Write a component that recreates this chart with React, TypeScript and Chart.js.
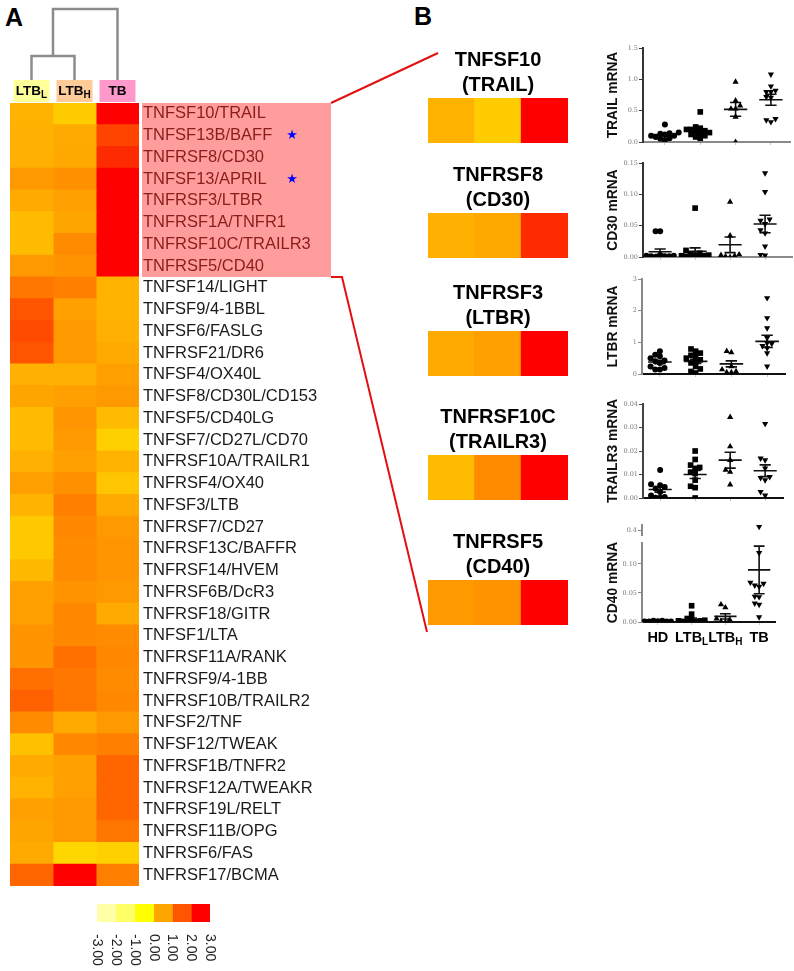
import React, { useEffect, useRef } from "react";
import { Chart, registerables } from "chart.js";

Chart.register(...registerables);

const SANS = "'Liberation Sans', Arial, Helvetica, sans-serif";

// ================= Panel A : heatmap data =================
const genes = [
  "TNFSF10/TRAIL", "TNFSF13B/BAFF", "TNFRSF8/CD30", "TNFSF13/APRIL", "TNFRSF3/LTBR", "TNFRSF1A/TNFR1", "TNFRSF10C/TRAILR3", "TNFRSF5/CD40",
  "TNFSF14/LIGHT", "TNFSF9/4-1BBL", "TNFSF6/FASLG", "TNFRSF21/DR6", "TNFSF4/OX40L", "TNFSF8/CD30L/CD153", "TNFSF5/CD40LG", "TNFSF7/CD27L/CD70",
  "TNFRSF10A/TRAILR1", "TNFRSF4/OX40", "TNFSF3/LTB", "TNFRSF7/CD27", "TNFRSF13C/BAFFR", "TNFRSF14/HVEM", "TNFRSF6B/DcR3", "TNFRSF18/GITR",
  "TNFSF1/LTA", "TNFRSF11A/RANK", "TNFRSF9/4-1BB", "TNFRSF10B/TRAILR2", "TNFSF2/TNF", "TNFSF12/TWEAK", "TNFRSF1B/TNFR2", "TNFRSF12A/TWEAKR",
  "TNFRSF19L/RELT", "TNFRSF11B/OPG", "TNFRSF6/FAS", "TNFRSF17/BCMA",
];
const ltbLowValues = [
  0.75, 0.80, 0.80, 1.15, 0.91, 0.61, 0.61, 1.15,
  1.58, 2.00, 2.13, 2.00, 0.80, 1.00, 0.61, 0.61,
  0.80, 1.08, 0.75, 0.38, 0.38, 0.66, 1.08, 1.06,
  1.21, 1.21, 1.66, 1.86, 1.31, 0.52, 0.91, 0.75,
  1.06, 1.00, 0.91, 1.79,
];
const ltbHighValues = [
  0.30, 0.91, 0.95, 1.26, 1.08, 1.00, 1.31, 1.21,
  1.48, 1.06, 1.15, 1.15, 0.80, 1.06, 1.20, 1.15,
  1.08, 1.26, 1.46, 1.36, 1.31, 1.31, 1.21, 1.36,
  1.36, 1.66, 1.58, 1.58, 0.91, 1.36, 1.06, 1.06,
  1.15, 1.15, 0.11, 3.00,
];
const tbValues = [
  3.00, 2.20, 2.50, 3.00, 3.00, 3.00, 3.00, 3.00,
  0.75, 0.75, 0.80, 0.91, 1.08, 1.15, 0.61, 0.23,
  0.75, 0.43, 0.91, 1.15, 1.20, 1.20, 1.15, 0.91,
  1.31, 1.36, 1.31, 1.36, 1.15, 1.46, 1.79, 1.79,
  1.79, 1.58, 0.23, 1.46,
];
const heatmapColumns = [["LTB", "L"], ["LTB", "H"], ["TB", ""]];
const highlightedRows = 8;
const starredGenes = ["TNFSF13B/BAFF", "TNFSF13/APRIL"];
const colorbarTicks = [-3, -2, -1, 0, 1, 2, 3];
const colorbarColors = ["#FFFFA8", "#FFFF66", "#FFFF00", "#FFA500", "#FF5500", "#FF0000"];

// ================= Panel B : detail heatmaps =================
const detailGenes = ["TNFSF10/TRAIL", "TNFRSF8/CD30", "TNFRSF3/LTBR", "TNFRSF10C/TRAILR3", "TNFRSF5/CD40"];
const detailTitles = [
  ["TNFSF10", "(TRAIL)"],
  ["TNFRSF8", "(CD30)"],
  ["TNFRSF3", "(LTBR)"],
  ["TNFRSF10C", "(TRAILR3)"],
  ["TNFRSF5", "(CD40)"],
];

// ================= Panel B : scatter data =================
const groupLabels = [["HD", ""], ["LTB", "L"], ["LTB", "H"], ["TB", ""]];

const trailHD = [0.28, 0.15, 0.13, 0.12, 0.10, 0.08, 0.06, 0.05, 0.03, 0.10, 0.14];
const trailLTBL = [0.48, 0.24, 0.22, 0.20, 0.18, 0.16, 0.14, 0.12, 0.10, 0.08, 0.06, 0.15, 0.20];
const trailLTBH = [0.96, 0.66, 0.58, 0.53, 0.53, 0.40, 0.0];
const trailTB = [1.08, 0.89, 0.82, 0.80, 0.80, 0.71, 0.72, 0.37, 0.32, 0.35];
const trailMeans = [0.12, 0.175, 0.52, 0.675];
const trailSems = [0.02, 0.025, 0.11, 0.088];
const trailTicks = [0, 0.5, 1.0, 1.5];

const cd30HD = [0.041, 0.041, 0.002, 0.001, 0.0, 0.003, 0.001, 0.002, 0.0, 0.001];
const cd30LTBL = [0.078, 0.0105, 0.006, 0.004, 0.003, 0.002, 0.002, 0.001, 0.001, 0.0, 0.0, 0.003];
const cd30LTBH = [0.088, 0.034, 0.004, 0.002, 0.001, 0.0, 0.003];
const cd30TB = [0.134, 0.104, 0.06, 0.058, 0.053, 0.043, 0.038, 0.017, 0.0037, 0.0026];
const cd30Means = [0.0084, 0.009, 0.0195, 0.0526];
const cd30Sems = [0.0043, 0.0055, 0.0125, 0.014];
const cd30Ticks = [0, 0.05, 0.10, 0.15];

const ltbrHD = [0.72, 0.61, 0.5, 0.43, 0.40, 0.35, 0.24, 0.19, 0.14, 0.14, 0.56];
const ltbrLTBL = [0.79, 0.72, 0.66, 0.59, 0.5, 0.40, 0.35, 0.24, 0.16, 0.08, 0.03, 0.56, 0.45];
const ltbrLTBH = [0.72, 0.68, 0.24, 0.14, 0.05, 0.05, 0.08];
const ltbrTB = [2.4, 1.77, 1.45, 1.14, 0.98, 0.96, 0.89, 0.82, 0.66, 0.24];
const ltbrMeans = [0.38, 0.40, 0.32, 1.03];
const ltbrSems = [0.055, 0.065, 0.095, 0.195];
const ltbrTicks = [0, 1, 2, 3];

const trailr3HD = [0.0119, 0.0059, 0.0054, 0.0047, 0.004, 0.0026, 0.0011, 0.0001, 0.0001, 0.0004];
const trailr3LTBL = [0.020, 0.0164, 0.014, 0.013, 0.0126, 0.011, 0.0104, 0.0076, 0.005, 0.0044, 0.0];
const trailr3LTBH = [0.0344, 0.0219, 0.0161, 0.0119, 0.0111, 0.0057];
const trailr3TB = [0.0316, 0.0169, 0.0161, 0.0126, 0.009, 0.0086, 0.0076, 0.0026, 0.0011];
const trailr3Means = [0.0036, 0.010, 0.0161, 0.0116];
const trailr3Sems = [0.0011, 0.0017, 0.0034, 0.0025];
const trailr3Ticks = [0, 0.01, 0.02, 0.03, 0.04];

const cd40HD = [0.001, 0.0005, 0.002, 0.001, 0.0, 0.0015, 0.001, 0.0005, 0.002, 0.001];
const cd40LTBL = [0.028, 0.0135, 0.006, 0.004, 0.003, 0.002, 0.001, 0.001, 0.0, 0.002, 0.0];
const cd40LTBH = [0.030, 0.025, 0.0056, 0.001, 0.0, 0.004];
const cd40TB = [0.41, 0.119, 0.068, 0.066, 0.063, 0.061, 0.044, 0.043, 0.032, 0.030, 0.0085];
const cd40Means = [0.001, 0.004, 0.0096, 0.0897];
const cd40Sems = [0.0003, 0.003, 0.0045, 0.041];
const cd40Ticks = [0, 0.05, 0.10];
const cd40UpperTicks = [0.4];

// ================= helpers =================
const heatStops = [
  { v: -3, c: [255, 255, 168] },
  { v: -2, c: [255, 255, 102] },
  { v: -1, c: [255, 255, 0] },
  { v: 0, c: [255, 221, 0] },
  { v: 1, c: [255, 165, 0] },
  { v: 2, c: [255, 85, 0] },
  { v: 3, c: [255, 0, 0] },
];
function heatColor(v: number) {
  const x = Math.max(-3, Math.min(3, v));
  for (let i = 0; i < heatStops.length - 1; i++) {
    const a = heatStops[i], b = heatStops[i + 1];
    if (x >= a.v && x <= b.v) {
      const t = (x - a.v) / (b.v - a.v);
      const c = a.c.map((ch, k) => Math.round(ch + (b.c[k] - ch) * t));
      return `rgb(${c[0]},${c[1]},${c[2]})`;
    }
  }
  return "rgb(255,0,0)";
}

function drawSubText(ctx: any, main: string, sub: string, cx: number, cy: number, size: number, subSize: number, color: string) {
  ctx.save();
  ctx.fillStyle = color;
  ctx.textBaseline = "middle";
  ctx.textAlign = "left";
  ctx.font = `bold ${size}px ${SANS}`;
  const w1 = ctx.measureText(main).width;
  ctx.font = `bold ${subSize}px ${SANS}`;
  const w2 = sub ? ctx.measureText(sub).width : 0;
  const x0 = cx - (w1 + w2) / 2;
  ctx.font = `bold ${size}px ${SANS}`;
  ctx.fillText(main, x0, cy);
  if (sub) {
    ctx.font = `bold ${subSize}px ${SANS}`;
    ctx.fillText(sub, x0 + w1, cy + size * 0.32);
  }
  ctx.restore();
}

function swarm(values: number[], center: number, dyThresh: number) {
  const step = 0.13;
  const offsets = [0, -step, step, -2 * step, 2 * step, -3 * step, 3 * step];
  const order = values.map((_, i) => i).sort((a, b) => values[a] - values[b]);
  const placed: { x: number; y: number }[] = [];
  const out: { x: number; y: number }[] = new Array(values.length);
  order.forEach((i, k) => {
    const y = values[i];
    let x = center + offsets[k % offsets.length];
    for (const off of offsets) {
      const cx = center + off;
      if (placed.every((p) => Math.abs(p.y - y) >= dyThresh || Math.abs(p.x - cx) >= step * 0.99)) {
        x = cx;
        break;
      }
    }
    placed.push({ x, y });
    out[i] = { x, y };
  });
  return out;
}

function summarySegments(means: number[], sems: number[]) {
  const pts: any[] = [];
  means.forEach((m, i) => {
    const s = sems[i];
    pts.push({ x: i - 0.33, y: m }, { x: i + 0.33, y: m }, { x: i, y: null });
    pts.push({ x: i, y: m - s }, { x: i, y: m + s }, { x: i, y: null });
    pts.push({ x: i - 0.16, y: m + s }, { x: i + 0.16, y: m + s }, { x: i, y: null });
    pts.push({ x: i - 0.16, y: m - s }, { x: i + 0.16, y: m - s }, { x: i, y: null });
  });
  return pts;
}

// ================= chart configs =================
const heatmapDecor = {
  id: "heatmapDecor",
  beforeDraw(chart: any) {
    const { ctx, chartArea, scales } = chart;
    const y = scales.y;
    const rowH = (chartArea.bottom - chartArea.top) / genes.length;
    const top = y.getPixelForValue(0) - rowH / 2;
    const bottom = y.getPixelForValue(highlightedRows - 1) + rowH / 2;
    ctx.save();
    ctx.fillStyle = "#FF9D9D";
    ctx.fillRect(chartArea.right + 3, top, 331 - (chartArea.right + 3), bottom - top);
    ctx.restore();
  },
  afterDraw(chart: any) {
    const { ctx, scales } = chart;
    const x = scales.x, y = scales.y;
    ctx.save();
    ctx.fillStyle = "#0000FF";
    ctx.font = `13px 'DejaVu Sans', sans-serif`;
    ctx.textAlign = "center";
    ctx.textBaseline = "middle";
    starredGenes.forEach((g) => {
      const i = genes.indexOf(g);
      ctx.fillText("\u2605", 292, y.getPixelForValue(i));
    });
    ctx.restore();
    const boxColors = ["#FFFF99", "#FFCC99", "#FF99CC"];
    const centers = heatmapColumns.map((_, c) => x.getPixelForValue(c + 0.5));
    heatmapColumns.forEach(([main, sub], c) => {
      ctx.save();
      ctx.fillStyle = boxColors[c];
      ctx.fillRect(centers[c] - 18, 80, 36, 22);
      ctx.restore();
      drawSubText(ctx, main, sub, centers[c], 91, 13.5, 10, "#000");
    });
    ctx.save();
    ctx.strokeStyle = "#8C8C8C";
    ctx.lineWidth = 2.5;
    const mid = (centers[0] + centers[1]) / 2;
    ctx.beginPath();
    ctx.moveTo(centers[0], 80); ctx.lineTo(centers[0], 56); ctx.lineTo(centers[1], 56); ctx.lineTo(centers[1], 80);
    ctx.moveTo(mid, 56); ctx.lineTo(mid, 9); ctx.lineTo(centers[2], 9); ctx.lineTo(centers[2], 80);
    ctx.stroke();
    ctx.restore();
  },
};

function heatmapConfig(): any {
  const columns = [ltbLowValues, ltbHighValues, tbValues];
  return {
    type: "bar",
    data: {
      labels: genes,
      datasets: columns.map((vals, c) => ({
        data: vals.map(() => [c, c + 1]),
        backgroundColor: vals.map(heatColor),
        grouped: false,
        barPercentage: 1,
        categoryPercentage: 1,
        borderWidth: 0,
        inflateAmount: 0.5,
      })),
    },
    options: {
      indexAxis: "y",
      animation: false,
      responsive: false,
      devicePixelRatio: 1,
      events: [],
      layout: { autoPadding: false, padding: { left: 10, top: 103, right: 0, bottom: 14 } },
      plugins: { legend: { display: false }, tooltip: { enabled: false }, title: { display: false } },
      scales: {
        x: { type: "linear", min: 0, max: 3, display: false },
        y: {
          type: "category",
          position: "right",
          grid: { display: false, drawTicks: false },
          border: { display: false },
          ticks: {
            autoSkip: false,
            padding: 4,
            font: { family: SANS, size: 16.5 },
            color: (ctx: any) => (ctx.index < highlightedRows ? "#8A1C1C" : "#1A1A1A"),
          },
          afterFit: (s: any) => { s.width = 206; },
        },
      },
    },
    plugins: [heatmapDecor],
  };
}

function colorbarConfig(): any {
  const labelPlugin = {
    id: "colorbarLabels",
    afterDraw(chart: any) {
      const { ctx, scales, chartArea } = chart;
      ctx.save();
      ctx.fillStyle = "#222";
      ctx.font = `14px ${SANS}`;
      ctx.textAlign = "left";
      ctx.textBaseline = "middle";
      colorbarTicks.forEach((t) => {
        const px = scales.x.getPixelForValue(t);
        ctx.save();
        ctx.translate(px, chartArea.bottom + 12);
        ctx.rotate(Math.PI / 2);
        ctx.fillText(t.toFixed(2), 0, 0);
        ctx.restore();
      });
      ctx.restore();
    },
  };
  return {
    type: "bar",
    data: {
      labels: [""],
      datasets: colorbarColors.map((c, i) => ({
        data: [[colorbarTicks[i], colorbarTicks[i + 1]]],
        backgroundColor: c,
        grouped: false,
        barPercentage: 1,
        categoryPercentage: 1,
        borderWidth: 0,
        inflateAmount: 0.5,
      })),
    },
    options: {
      indexAxis: "y",
      animation: false,
      responsive: false,
      devicePixelRatio: 1,
      events: [],
      layout: { autoPadding: false, padding: { left: 17, right: 20, top: 9, bottom: 49 } },
      plugins: { legend: { display: false }, tooltip: { enabled: false } },
      scales: {
        x: { type: "linear", min: -3, max: 3, display: false },
        y: { type: "category", display: false },
      },
    },
    plugins: [labelPlugin],
  };
}

function detailConfig(k: number): any {
  const row = genes.indexOf(detailGenes[k]);
  const vals = [ltbLowValues[row], ltbHighValues[row], tbValues[row]];
  return {
    type: "bar",
    data: {
      labels: ["", "", ""],
      datasets: [{
        data: vals.map(() => 1),
        backgroundColor: vals.map(heatColor),
        barPercentage: 1,
        categoryPercentage: 1,
        borderWidth: 0,
        inflateAmount: 0.5,
      }],
    },
    options: {
      animation: false,
      responsive: false,
      devicePixelRatio: 1,
      events: [],
      layout: { autoPadding: false, padding: { left: 20, right: 20, top: 0, bottom: 1 } },
      plugins: {
        legend: { display: false },
        tooltip: { enabled: false },
        title: {
          display: true,
          text: detailTitles[k],
          color: "#000",
          font: { family: SANS, size: 20, weight: "bold", lineHeight: 1.25 },
          padding: { top: 0, bottom: 0 },
        },
      },
      scales: {
        x: { display: false },
        y: { display: false, min: 0, max: 1 },
      },
    },
  };
}

const scatterPlots = [
  { title: "TRAIL mRNA", groups: [trailHD, trailLTBL, trailLTBH, trailTB], means: trailMeans, sems: trailSems, ticks: trailTicks, decimals: 1 },
  { title: "CD30 mRNA", groups: [cd30HD, cd30LTBL, cd30LTBH, cd30TB], means: cd30Means, sems: cd30Sems, ticks: cd30Ticks, decimals: 2 },
  { title: "LTBR mRNA", groups: [ltbrHD, ltbrLTBL, ltbrLTBH, ltbrTB], means: ltbrMeans, sems: ltbrSems, ticks: ltbrTicks, decimals: 0 },
  { title: "TRAILR3 mRNA", groups: [trailr3HD, trailr3LTBL, trailr3LTBH, trailr3TB], means: trailr3Means, sems: trailr3Sems, ticks: trailr3Ticks, decimals: 2 },
  { title: "CD40 mRNA", groups: [cd40HD, cd40LTBL, cd40LTBH, cd40TB], means: cd40Means, sems: cd40Sems, ticks: cd40Ticks, decimals: 2 },
];

// layout of each scatter panel (page pixels of the plot area)
const scatterLayouts = [
  { l: 643, t: 48, r: 790, b: 142, xMin: -0.62, xMax: 3.54, yMin: 0, yMax: 1.5, yColor: "#333", xColor: "#8A8A8A", xh: 5 },
  { l: 643, t: 163, r: 792, b: 257, xMin: -0.49, xMax: 3.77, yMin: 0, yMax: 0.15, yColor: "#333", xColor: "#8A8A8A", xh: 5 },
  { l: 642, t: 279, r: 785, b: 374, xMin: -0.5, xMax: 3.5, yMin: 0, yMax: 3, yColor: "#8A8A8A", xColor: "#111", xh: 5 },
  { l: 643, t: 404, r: 783, b: 498, xMin: -0.49, xMax: 3.51, yMin: 0, yMax: 0.04, yColor: "#444", xColor: "#111", xh: 5 },
  { l: 642, t: 543, r: 775, b: 622, xMin: -0.47, xMax: 3.47, yMin: 0, yMax: 0.136, yColor: "#8A8A8A", xColor: "#111", xh: 30 },
];
const cd40UpperLayout = { l: 642, t: 525, r: 775, b: 536, xMin: -0.47, xMax: 3.47, yMin: 0.385, yMax: 0.415, yColor: "#8A8A8A", xColor: "#111", xh: 0 };
const SCATTER_TOP_PAD = 10;

const markerStyles = [
  { pointStyle: "circle", rotation: 0, radius: 3 },
  { pointStyle: "rect", rotation: 0, radius: 4 },
  { pointStyle: "triangle", rotation: 0, radius: 3.6 },
  { pointStyle: "triangle", rotation: 180, radius: 3.6 },
];

function scatterConfig(p: any, lay: any, tickValues: number[], tickDecimals: number, withTitle: boolean, showGroupLabels: boolean): any {
  const dy = ((lay.yMax - lay.yMin) / (lay.b - lay.t)) * 5;
  const datasets: any[] = p.groups.map((vals: number[], g: number) => ({
    data: swarm(vals, g, dy),
    pointStyle: markerStyles[g].pointStyle,
    rotation: markerStyles[g].rotation,
    pointRadius: markerStyles[g].radius,
    backgroundColor: "#000",
    borderColor: "#000",
    borderWidth: 0,
  }));
  datasets.push({
    data: summarySegments(p.means, p.sems),
    showLine: true,
    spanGaps: false,
    pointRadius: 0,
    borderColor: "#111",
    borderWidth: 1.6,
  });
  const labelPlugin = {
    id: "groupLabels",
    afterDraw(chart: any) {
      if (!showGroupLabels) return;
      const { ctx, scales, chartArea } = chart;
      groupLabels.forEach(([main, sub], i) => {
        drawSubText(ctx, main, sub, scales.x.getPixelForValue(i), chartArea.bottom + 16, 14.5, 10, "#000");
      });
    },
  };
  const hasX = lay.xh > 0;
  return {
    type: "scatter",
    data: { datasets },
    options: {
      animation: false,
      responsive: false,
      devicePixelRatio: 1,
      events: [],
      layout: { autoPadding: false, padding: { left: 5, right: 794 - lay.r, top: SCATTER_TOP_PAD, bottom: hasX ? 0 : 4 } },
      plugins: { legend: { display: false }, tooltip: { enabled: false } },
      scales: {
        x: {
          type: "linear",
          min: lay.xMin,
          max: lay.xMax,
          display: hasX,
          afterBuildTicks: (s: any) => { s.ticks = [0, 1, 2, 3].map((v) => ({ value: v })); },
          ticks: { display: false },
          grid: { display: true, drawOnChartArea: false, drawTicks: true, tickLength: 3, color: "#C8C8C8" },
          border: { display: true, color: lay.xColor, width: 2 },
          afterFit: (s: any) => { s.height = lay.xh; },
        },
        y: {
          type: "linear",
          min: lay.yMin,
          max: lay.yMax,
          afterBuildTicks: (s: any) => { s.ticks = tickValues.map((v) => ({ value: v })); },
          ticks: {
            autoSkip: false,
            padding: 1,
            color: "#777",
            font: { family: "'DejaVu Serif', serif", size: 6.5 },
            callback: (v: any) => Number(v).toFixed(tickDecimals),
          },
          grid: { display: true, drawOnChartArea: false, drawTicks: true, tickLength: 4, color: lay.yColor },
          border: { display: true, color: lay.yColor, width: 2 },
          title: {
            display: withTitle,
            text: p.title,
            color: "#111",
            font: { family: SANS, size: 13.8, weight: "bold" },
            padding: { top: 0, bottom: 0 },
          },
          afterFit: (s: any) => { s.width = lay.l - 605; },
        },
      },
    },
    plugins: [labelPlugin],
  };
}

// ================= components =================
function ChartCanvas(props: { left: number; top: number; width: number; height: number; make: () => any }) {
  const ref = useRef<HTMLCanvasElement | null>(null);
  useEffect(() => {
    const chart = new Chart(ref.current as HTMLCanvasElement, props.make());
    return () => chart.destroy();
  }, []);
  return (
    <canvas
      ref={ref}
      width={props.width}
      height={props.height}
      style={{ position: "absolute", left: props.left, top: props.top, width: props.width, height: props.height }}
    />
  );
}

const detailTops = [98, 213, 331, 455, 580];

export default function App() {
  return (
    <div style={{ position: "absolute", left: 0, top: 0, width: 794, height: 971, background: "#fff", overflow: "hidden", fontFamily: SANS }}>
      <div style={{ position: "absolute", left: 5, top: 3, fontSize: 25, fontWeight: "bold", lineHeight: "28px" }}>A</div>
      <div style={{ position: "absolute", left: 414, top: 2, fontSize: 25, fontWeight: "bold", lineHeight: "28px" }}>B</div>

      <ChartCanvas left={0} top={0} width={345} height={900} make={heatmapConfig} />
      <ChartCanvas left={80} top={895} width={150} height={76} make={colorbarConfig} />

      {detailTops.map((t, k) => (
        <ChartCanvas key={"d" + k} left={408} top={t - 50} width={180} height={96} make={() => detailConfig(k)} />
      ))}

      {scatterPlots.map((p, k) => {
        const lay = scatterLayouts[k];
        return (
          <ChartCanvas
            key={"s" + k}
            left={600}
            top={lay.t - SCATTER_TOP_PAD}
            width={194}
            height={lay.b - lay.t + SCATTER_TOP_PAD + lay.xh}
            make={() => scatterConfig(p, lay, p.ticks, p.decimals, true, k === 4)}
          />
        );
      })}
      <ChartCanvas
        left={600}
        top={cd40UpperLayout.t - SCATTER_TOP_PAD}
        width={194}
        height={cd40UpperLayout.b - cd40UpperLayout.t + SCATTER_TOP_PAD + 4}
        make={() => scatterConfig(scatterPlots[4], cd40UpperLayout, cd40UpperTicks, 1, false, false)}
      />

      <svg width={794} height={971} style={{ position: "absolute", left: 0, top: 0, pointerEvents: "none" }}>
        <polyline points="331,103 438,53" stroke="#E31010" strokeWidth={2} fill="none" />
        <polyline points="331,277 342,277 427,632" stroke="#E31010" strokeWidth={2} fill="none" />
      </svg>
    </div>
  );
}
